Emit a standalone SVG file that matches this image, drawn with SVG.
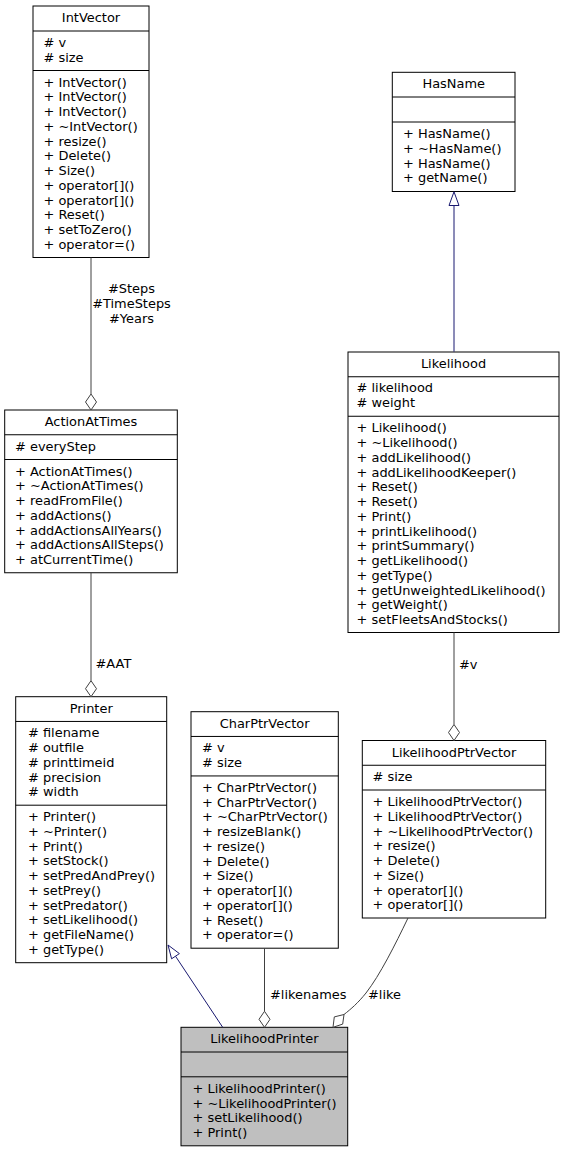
<svg xmlns="http://www.w3.org/2000/svg" width="565" height="1153" viewBox="0 0 565 1153">
<style>
.box{fill:#fff;stroke:#000;stroke-width:1}
.cur{fill:#bfbfbf;stroke:#000;stroke-width:1}
.sep{stroke:#000;stroke-width:1}
text{font-family:"DejaVu Sans","Liberation Sans",sans-serif;font-size:12.95px;fill:#000}
.t{text-anchor:middle}
.e{fill:none;stroke:#404040;stroke-width:1}
.dia{fill:#fff;stroke:#404040;stroke-width:1}
.inh{fill:none;stroke:#191970;stroke-width:1}
.tri{fill:#fff;stroke:#191970;stroke-width:1}
</style>
<rect width="565" height="1153" fill="#fff"/>
<g id="IntVector">
<rect class="box" x="33" y="6" width="116" height="251.5"/>
<line class="sep" x1="33" y1="31" x2="149" y2="31"/>
<line class="sep" x1="33" y1="70.5" x2="149" y2="70.5"/>
<text class="t" x="91" y="22">IntVector</text>
<text x="43.5" y="47"><tspan># v</tspan><tspan x="43.5" dy="14.75"># size</tspan></text>
<text x="43.5" y="86.5"><tspan>+ IntVector()</tspan><tspan x="43.5" dy="14.75">+ IntVector()</tspan><tspan x="43.5" dy="14.75">+ IntVector()</tspan><tspan x="43.5" dy="14.75">+ ~IntVector()</tspan><tspan x="43.5" dy="14.75">+ resize()</tspan><tspan x="43.5" dy="14.75">+ Delete()</tspan><tspan x="43.5" dy="14.75">+ Size()</tspan><tspan x="43.5" dy="14.75">+ operator[]()</tspan><tspan x="43.5" dy="14.75">+ operator[]()</tspan><tspan x="43.5" dy="14.75">+ Reset()</tspan><tspan x="43.5" dy="14.75">+ setToZero()</tspan><tspan x="43.5" dy="14.75">+ operator=()</tspan></text>
</g>
<g id="HasName">
<rect class="box" x="392.3" y="72.3" width="122.7" height="119.2"/>
<line class="sep" x1="392.3" y1="97" x2="515" y2="97"/>
<line class="sep" x1="392.3" y1="122" x2="515" y2="122"/>
<text class="t" x="453.7" y="88.3">HasName</text>
<text x="403" y="138"><tspan>+ HasName()</tspan><tspan x="403" dy="14.75">+ ~HasName()</tspan><tspan x="403" dy="14.75">+ HasName()</tspan><tspan x="403" dy="14.75">+ getName()</tspan></text>
</g>
<g id="Likelihood">
<rect class="box" x="348" y="352" width="211" height="280.5"/>
<line class="sep" x1="348" y1="376.75" x2="559" y2="376.75"/>
<line class="sep" x1="348" y1="416.25" x2="559" y2="416.25"/>
<text class="t" x="453.5" y="368">Likelihood</text>
<text x="356.5" y="392.25"><tspan># likelihood</tspan><tspan x="356.5" dy="14.75"># weight</tspan></text>
<text x="356.5" y="432.25"><tspan>+ Likelihood()</tspan><tspan x="356.5" dy="14.75">+ ~Likelihood()</tspan><tspan x="356.5" dy="14.75">+ addLikelihood()</tspan><tspan x="356.5" dy="14.75">+ addLikelihoodKeeper()</tspan><tspan x="356.5" dy="14.75">+ Reset()</tspan><tspan x="356.5" dy="14.75">+ Reset()</tspan><tspan x="356.5" dy="14.75">+ Print()</tspan><tspan x="356.5" dy="14.75">+ printLikelihood()</tspan><tspan x="356.5" dy="14.75">+ printSummary()</tspan><tspan x="356.5" dy="14.75">+ getLikelihood()</tspan><tspan x="356.5" dy="14.75">+ getType()</tspan><tspan x="356.5" dy="14.75">+ getUnweightedLikelihood()</tspan><tspan x="356.5" dy="14.75">+ getWeight()</tspan><tspan x="356.5" dy="14.75">+ setFleetsAndStocks()</tspan></text>
</g>
<g id="ActionAtTimes">
<rect class="box" x="4.7" y="410" width="172.6" height="162.75"/>
<line class="sep" x1="4.7" y1="434.75" x2="177.3" y2="434.75"/>
<line class="sep" x1="4.7" y1="459.5" x2="177.3" y2="459.5"/>
<text class="t" x="91" y="426">ActionAtTimes</text>
<text x="15" y="450.75"># everyStep</text>
<text x="15" y="475.5"><tspan>+ ActionAtTimes()</tspan><tspan x="15" dy="14.75">+ ~ActionAtTimes()</tspan><tspan x="15" dy="14.75">+ readFromFile()</tspan><tspan x="15" dy="14.75">+ addActions()</tspan><tspan x="15" dy="14.75">+ addActionsAllYears()</tspan><tspan x="15" dy="14.75">+ addActionsAllSteps()</tspan><tspan x="15" dy="14.75">+ atCurrentTime()</tspan></text>
</g>
<g id="Printer">
<rect class="box" x="15.7" y="696.7" width="151" height="266"/>
<line class="sep" x1="15.7" y1="721.45" x2="166.7" y2="721.45"/>
<line class="sep" x1="15.7" y1="805.2" x2="166.7" y2="805.2"/>
<text class="t" x="91.2" y="712.7">Printer</text>
<text x="28" y="737.45"><tspan># filename</tspan><tspan x="28" dy="14.75"># outfile</tspan><tspan x="28" dy="14.75"># printtimeid</tspan><tspan x="28" dy="14.75"># precision</tspan><tspan x="28" dy="14.75"># width</tspan></text>
<text x="28" y="821.2"><tspan>+ Printer()</tspan><tspan x="28" dy="14.75">+ ~Printer()</tspan><tspan x="28" dy="14.75">+ Print()</tspan><tspan x="28" dy="14.75">+ setStock()</tspan><tspan x="28" dy="14.75">+ setPredAndPrey()</tspan><tspan x="28" dy="14.75">+ setPrey()</tspan><tspan x="28" dy="14.75">+ setPredator()</tspan><tspan x="28" dy="14.75">+ setLikelihood()</tspan><tspan x="28" dy="14.75">+ getFileName()</tspan><tspan x="28" dy="14.75">+ getType()</tspan></text>
</g>
<g id="CharPtrVector">
<rect class="box" x="191" y="711.7" width="147.3" height="236.5"/>
<line class="sep" x1="191" y1="736.45" x2="338.3" y2="736.45"/>
<line class="sep" x1="191" y1="775.95" x2="338.3" y2="775.95"/>
<text class="t" x="264.65" y="727.7">CharPtrVector</text>
<text x="202" y="752.45"><tspan># v</tspan><tspan x="202" dy="14.75"># size</tspan></text>
<text x="202" y="791.95"><tspan>+ CharPtrVector()</tspan><tspan x="202" dy="14.75">+ CharPtrVector()</tspan><tspan x="202" dy="14.75">+ ~CharPtrVector()</tspan><tspan x="202" dy="14.75">+ resizeBlank()</tspan><tspan x="202" dy="14.75">+ resize()</tspan><tspan x="202" dy="14.75">+ Delete()</tspan><tspan x="202" dy="14.75">+ Size()</tspan><tspan x="202" dy="14.75">+ operator[]()</tspan><tspan x="202" dy="14.75">+ operator[]()</tspan><tspan x="202" dy="14.75">+ Reset()</tspan><tspan x="202" dy="14.75">+ operator=()</tspan></text>
</g>
<g id="LikelihoodPtrVector">
<rect class="box" x="362.3" y="740.5" width="183.4" height="177.5"/>
<line class="sep" x1="362.3" y1="765.25" x2="545.7" y2="765.25"/>
<line class="sep" x1="362.3" y1="790" x2="545.7" y2="790"/>
<text class="t" x="454" y="756.5">LikelihoodPtrVector</text>
<text x="372.5" y="781.25"># size</text>
<text x="372.5" y="806"><tspan>+ LikelihoodPtrVector()</tspan><tspan x="372.5" dy="14.75">+ LikelihoodPtrVector()</tspan><tspan x="372.5" dy="14.75">+ ~LikelihoodPtrVector()</tspan><tspan x="372.5" dy="14.75">+ resize()</tspan><tspan x="372.5" dy="14.75">+ Delete()</tspan><tspan x="372.5" dy="14.75">+ Size()</tspan><tspan x="372.5" dy="14.75">+ operator[]()</tspan><tspan x="372.5" dy="14.75">+ operator[]()</tspan></text>
</g>
<g id="LikelihoodPrinter">
<rect class="cur" x="181" y="1027.3" width="166.7" height="118.5"/>
<line class="sep" x1="181" y1="1052" x2="347.7" y2="1052"/>
<line class="sep" x1="181" y1="1076.8" x2="347.7" y2="1076.8"/>
<text class="t" x="264.35" y="1043.3">LikelihoodPrinter</text>
<text x="192.5" y="1092.8"><tspan>+ LikelihoodPrinter()</tspan><tspan x="192.5" dy="14.75">+ ~LikelihoodPrinter()</tspan><tspan x="192.5" dy="14.75">+ setLikelihood()</tspan><tspan x="192.5" dy="14.75">+ Print()</tspan></text>
</g>
<g id="connectors">
<line class="inh" x1="454" y1="351.7" x2="454" y2="205"/>
<polygon class="tri" points="454,191.8 459,205.5 449,205.5"/>
<line class="e" x1="91" y1="257.5" x2="91" y2="394"/>
<polygon class="dia" points="91,410 96.5,402 91,394 85.5,402"/>
<text class="t" x="131.5" y="293">#Steps</text>
<text class="t" x="131.5" y="307.75">#TimeSteps</text>
<text class="t" x="131.5" y="322.5">#Years</text>
<line class="e" x1="91" y1="572.75" x2="91" y2="680.7"/>
<polygon class="dia" points="91,696.7 96.5,688.7 91,680.7 85.5,688.7"/>
<text x="95.5" y="668">#AAT</text>
<line class="e" x1="454" y1="632.5" x2="454" y2="724.5"/>
<polygon class="dia" points="454,740.5 459.5,732.5 454,724.5 448.5,732.5"/>
<text x="459" y="668.5">#v</text>
<line class="e" x1="264.5" y1="948.2" x2="264.5" y2="1011.3"/>
<polygon class="dia" points="264.5,1027.3 270,1019.3 264.5,1011.3 259,1019.3"/>
<text x="270" y="998.5">#likenames</text>
<path class="e" d="M408,918 C395,945 380,975 366,993 C358,1003 351,1009 344,1014.5"/>
<polygon class="dia" points="333,1027.3 342.7,1024.1 344,1014.5 334.3,1016.9"/>
<text x="368" y="998.5">#like</text>
<line class="inh" x1="222.7" y1="1027.3" x2="175.5" y2="956.2"/>
<polygon class="tri" points="168,945 179.4,953.6 171.6,958.8"/>
</g>
</svg>
